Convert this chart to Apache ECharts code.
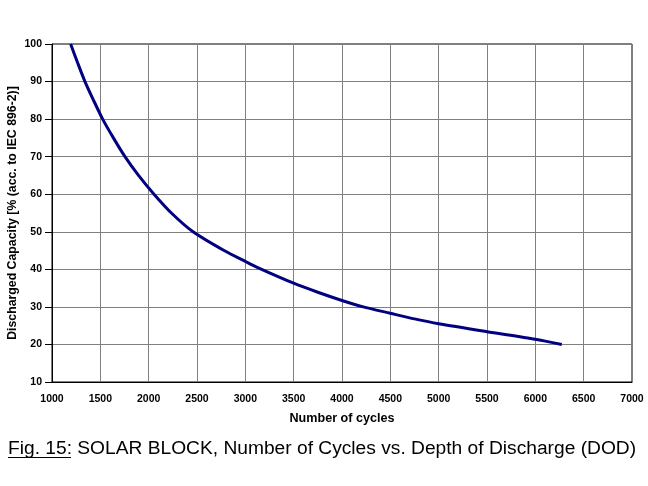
<!DOCTYPE html>
<html>
<head>
<meta charset="utf-8">
<script src="https://cdn.jsdelivr.net/npm/echarts@6/dist/echarts.min.js"></script>
<style>
html,body{margin:0;padding:0;background:#fff;}
#chart{width:648px;height:486px;}
</style>
</head>
<body>
<div id="chart"></div>
<script>
var cycles   = [1193, 1265, 1341, 1430, 1524, 1635, 1755, 1895, 2055, 2235, 2459, 2780, 3000, 3117, 3500, 3750, 4000, 4220, 4500, 4750, 5000, 5500, 6000, 6273];
var capacity = [100, 95, 90, 85, 80, 75, 70, 65, 60, 55, 50, 45, 42.1, 40.6, 36.3, 33.9, 31.7, 30, 28.3, 26.8, 25.5, 23.4, 21.4, 20];
var xTitle = 'Number of cycles';
var yTitle = 'Discharged Capacity [% (acc. to IEC 896-2)]';
var captionHead = 'Fig. 15:';
var captionBody = ' SOLAR BLOCK, Number of Cycles vs. Depth of Discharge (DOD)';

var points = cycles.map(function (c, i) { return [c, capacity[i]]; });
var font = '"Liberation Sans", Arial, sans-serif';
var chart = echarts.init(document.getElementById('chart'));
chart.setOption({
  animation: false,
  backgroundColor: '#fff',
  title: {
    text: '{u|' + captionHead + '}{n|' + captionBody + '}',
    left: 8,
    top: 439,
    padding: 0,
    textStyle: {
      fontWeight: 'normal',
      rich: {
        u: { fontFamily: font, fontSize: 19.2, fontWeight: 'normal', color: '#000' },
        n: { fontFamily: font, fontSize: 19.2, fontWeight: 'normal', color: '#000' }
      }
    }
  },
  graphic: [{
    type: 'rect',
    shape: { x: 8, y: 457, width: 63, height: 1 },
    style: { fill: '#000' }
  }],
  grid: {
    left: 52, right: 16, top: 44, bottom: 104,
    containLabel: false, outerBoundsMode: 'none',
    show: true, borderColor: '#000', borderWidth: 1, backgroundColor: 'transparent'
  },
  xAxis: {
    type: 'value', min: 1000, max: 7000, interval: 500,
    name: xTitle, nameLocation: 'middle', nameGap: 30, nameMoveOverlap: false,
    nameTextStyle: { fontFamily: font, fontSize: 12.6, fontWeight: 'bold', color: '#000' },
    axisLine: { lineStyle: { color: '#000', width: 1 } },
    axisTick: { show: false },
    axisLabel: { margin: 12, fontFamily: font, fontSize: 10.5, fontWeight: 'bold', color: '#000',
      formatter: function (v) { return String(v); } },
    splitLine: { show: true, lineStyle: { color: '#808080', width: 1 } }
  },
  yAxis: {
    type: 'value', min: 10, max: 100, interval: 10,
    name: yTitle, nameLocation: 'middle', nameGap: 33, nameRotate: 90, nameMoveOverlap: false,
    nameTextStyle: { fontFamily: font, fontSize: 12.3, fontWeight: 'bold', color: '#000' },
    axisLine: { show: true, lineStyle: { color: '#000', width: 1 } },
    axisTick: { show: true, inside: false, length: 7, lineStyle: { color: '#000' } },
    axisLabel: { margin: 10, fontFamily: font, fontSize: 10.5, fontWeight: 'bold', color: '#000' },
    splitLine: { show: true, lineStyle: { color: '#808080', width: 1 } }
  },
  series: [{
    type: 'line',
    data: points,
    smooth: 0.25,
    showSymbol: false,
    lineStyle: { color: '#000080', width: 3 }
  }]
});
</script>
</body>
</html>
